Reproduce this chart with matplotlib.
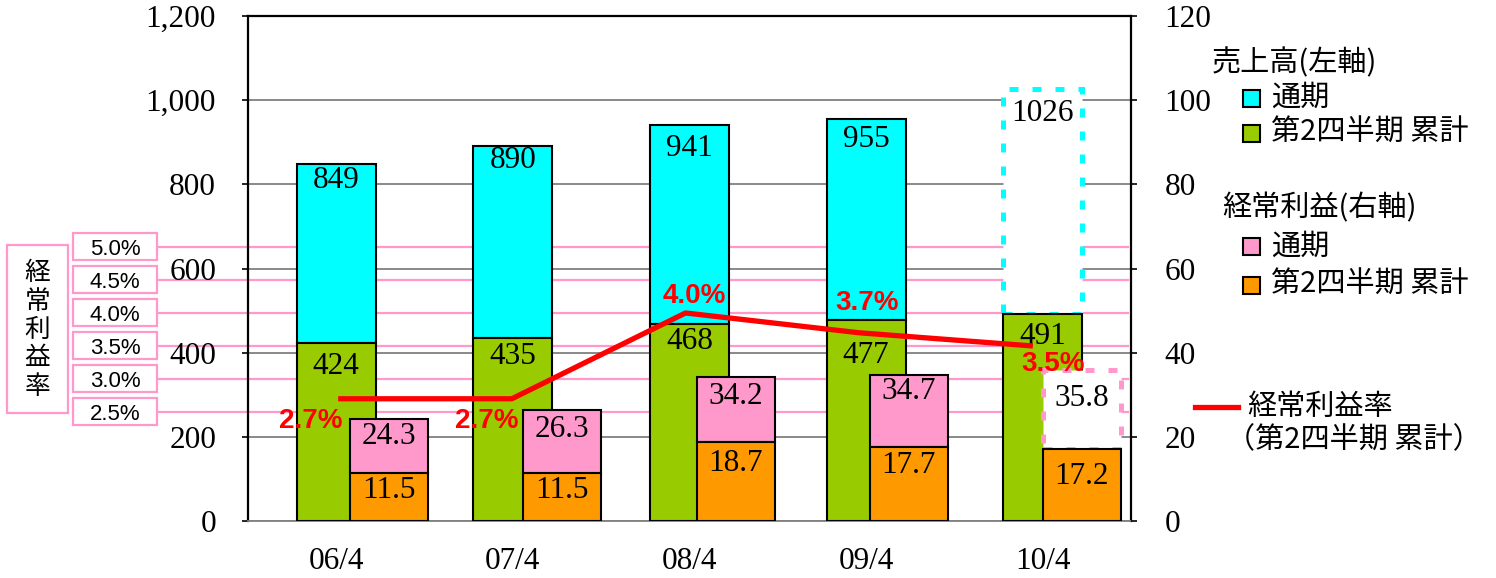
import matplotlib
matplotlib.use('Agg')
import matplotlib.pyplot as plt
from matplotlib.patches import Rectangle
from matplotlib.lines import Line2D
from matplotlib.ticker import FuncFormatter
import matplotlib.transforms as mtrans

# ---------------- data ----------------
categories = ['06/4', '07/4', '08/4', '09/4', '10/4']
sales_full = [849, 890, 941, 955, 1026]
sales_q2 = [424, 435, 468, 477, 491]
profit_full = [24.3, 26.3, 34.2, 34.7, 35.8]
profit_q2 = [11.5, 11.5, 18.7, 17.7, 17.2]
ratio_q2 = [2.7, 2.7, 4.0, 3.7, 3.5]
is_forecast = [False, False, False, False, True]
ratio_levels = [5.0, 4.5, 4.0, 3.5, 3.0, 2.5]
left_ticks = [0, 200, 400, 600, 800, 1000, 1200]
right_ticks = [0, 20, 40, 60, 80, 100, 120]

legend_sales_title = '売上高(左軸)'
legend_profit_title = '経常利益(右軸)'
legend_full = '通期'
legend_q2 = '第2四半期 累計'
legend_ratio = '経常利益率'
legend_ratio_sub = '（第2四半期 累計）'
ratio_axis_title = '経常利益率'

# ---------------- style ----------------
C_CYAN = '#00FFFF'
C_GREEN = '#99CC00'
C_PINK = '#FF99CC'
C_ORANGE = '#FF9900'
C_RED = '#FF0000'
SERIF = ['Liberation Serif', 'DejaVu Serif']
JP = ['Noto Sans CJK JP', 'DejaVu Sans']
SANS = ['Liberation Sans', 'DejaVu Sans']
NUM_FS = 22.5

W, H = 1496, 578
fig = plt.figure(figsize=(W / 100, H / 100), dpi=100)
fig.patch.set_facecolor('white')


def fr(x0, y0, x1, y1):
    return [x0 / W, 1 - y1 / H, (x1 - x0) / W, (y1 - y0) / H]


rect = fr(248, 16, 1131, 521)
ratio_ylim = (0.848, 8.5)

ax_r = fig.add_axes(rect, zorder=0)   # ratio guide lines
ax = fig.add_axes(rect, zorder=1)     # sales (left axis)
ax2 = fig.add_axes(rect, zorder=2)    # profit (right axis)
ax_l = fig.add_axes(rect, zorder=3)   # ratio line

# ---------- ratio guide lines and boxes ----------
ax_r.set_ylim(*ratio_ylim)
ax_r.set_xlim(0, 1)
ax_r.axis('off')
blend = mtrans.blended_transform_factory(fig.transFigure, ax_r.transData)
box_h = 27 * (ratio_ylim[1] - ratio_ylim[0]) / (521 - 16)
pix = mtrans.ScaledTranslation(0, -3 / 100, fig.dpi_scale_trans)
for lv in ratio_levels:
    fig.add_artist(Line2D([157 / W, 1128 / W], [lv, lv], transform=blend,
                          color=C_PINK, lw=1.6, zorder=0))
    fig.add_artist(Rectangle((73 / W, lv - box_h / 2), 84 / W, box_h,
                             transform=blend, facecolor='white',
                             edgecolor=C_PINK, lw=1.6, zorder=1))
    fig.text(115 / W, lv, f'{lv:.1f}%', transform=blend + pix, ha='center',
             va='center', fontsize=16, family=SANS, zorder=2)

fig.add_artist(Rectangle((7 / W, 1 - 413 / H), 61 / W, 168 / H,
                         transform=fig.transFigure, facecolor='white',
                         edgecolor=C_PINK, lw=1.6))
fig.text(37.5 / W, 1 - 330 / H, '\n'.join(ratio_axis_title), ha='center',
         va='center', fontsize=18.5, family=JP, linespacing=1.12)

# ---------- sales (left) ----------
ax.patch.set_visible(False)
ax.set_xlim(-0.5, 4.5)
ax.set_ylim(0, 1200)
ax.set_yticks(left_ticks)
ax.yaxis.set_major_formatter(FuncFormatter(lambda v, p: f'{v:,.0f}'))
ax.set_xticks(range(len(categories)))
ax.set_xticklabels(categories)
ax.tick_params(axis='y', direction='out', length=4, width=1.2, pad=19,
               labelsize=NUM_FS)
ax.tick_params(axis='x', length=0, pad=19, labelsize=NUM_FS)
for t in ax.get_xticklabels() + ax.get_yticklabels():
    t.set_family(SERIF)
ax.yaxis.grid(True, color='#808080', lw=1.3)
ax.set_axisbelow(True)
for s in ['left', 'top', 'right']:
    ax.spines[s].set_color('black')
    ax.spines[s].set_linewidth(1.6)
ax.spines['bottom'].set_color('#808080')
ax.spines['bottom'].set_linewidth(1.3)

sales_full_off = [-17, -14, -24, -20, -24]
sales_q2_off = [-24, -19, -17, -35, -22]
bw = 0.448
for i in range(len(categories)):
    if is_forecast[i]:
        ax.bar(i, sales_full[i] - sales_q2[i], bottom=sales_q2[i], width=bw,
               facecolor='white', edgecolor=C_CYAN, lw=3.6,
               linestyle=(0, (1.8, 2.8)), zorder=3)
    else:
        ax.bar(i, sales_full[i] - sales_q2[i], bottom=sales_q2[i], width=bw,
               facecolor=C_CYAN, edgecolor='black', lw=1.5, zorder=3)
    ax.bar(i, sales_q2[i], width=bw, facecolor=C_GREEN, edgecolor='black',
           lw=1.5, zorder=3)
    ax.annotate(f'{sales_full[i]}', (i, sales_full[i]),
                xytext=(0, sales_full_off[i]), textcoords='offset pixels',
                ha='center', va='center', fontsize=NUM_FS, family=SERIF,
                zorder=5)
    ax.annotate(f'{sales_q2[i]}', (i, sales_q2[i]),
                xytext=(0, sales_q2_off[i]), textcoords='offset pixels',
                ha='center', va='center', fontsize=NUM_FS, family=SERIF,
                zorder=5)

# ---------- profit (right) ----------
ax2.patch.set_visible(False)
ax2.set_xlim(-0.815, 4.283)
ax2.set_ylim(0, 120)
ax2.set_xticks([])
ax2.yaxis.tick_right()
ax2.set_yticks(right_ticks)
ax2.tick_params(axis='y', direction='out', length=4, width=1.2, pad=20,
                labelsize=NUM_FS)
for t in ax2.get_yticklabels():
    t.set_family(SERIF)
for s in ax2.spines.values():
    s.set_visible(False)

pw = 0.45
profit_full_off = [-18, -19, -19, -17, -28]
profit_q2_off = [-18, -18, -21, -19, -28]
for i in range(len(categories)):
    if is_forecast[i]:
        ax2.bar(i, profit_full[i] - profit_q2[i], bottom=profit_q2[i],
                width=pw, facecolor='white', edgecolor=C_PINK, lw=3.6,
                linestyle=(0, (1.8, 2.8)), zorder=3)
    else:
        ax2.bar(i, profit_full[i] - profit_q2[i], bottom=profit_q2[i],
                width=pw, facecolor=C_PINK, edgecolor='black', lw=1.5,
                zorder=3)
    ax2.bar(i, profit_q2[i], width=pw, facecolor=C_ORANGE, edgecolor='black',
            lw=1.5, zorder=3)
    ax2.annotate(f'{profit_full[i]:.1f}', (i, profit_full[i]),
                 xytext=(0, profit_full_off[i]), textcoords='offset pixels',
                 ha='center', va='center', fontsize=NUM_FS, family=SERIF,
                 zorder=5)
    ax2.annotate(f'{profit_q2[i]:.1f}', (i, profit_q2[i]),
                 xytext=(0, profit_q2_off[i]), textcoords='offset pixels',
                 ha='center', va='center', fontsize=NUM_FS, family=SERIF,
                 zorder=5)

# ---------- ratio line ----------
ax_l.patch.set_visible(False)
ax_l.set_xlim(-0.519, 4.565)
ax_l.set_ylim(*ratio_ylim)
ax_l.axis('off')
ax_l.plot(range(len(categories)), ratio_q2, color=C_RED, lw=3.8,
          solid_capstyle='butt', solid_joinstyle='round')
ratio_lbl_off = [(-27, -22), (-25, -22), (9, 17), (8, 30), (20, -18)]
for i, r in enumerate(ratio_q2):
    ax_l.annotate(f'{r:.1f}%', (i, r), xytext=ratio_lbl_off[i],
                  textcoords='offset pixels', ha='center', va='center',
                  color=C_RED, fontsize=20, fontweight='bold',
                  family=SANS)

# ---------- legend ----------
def fx(x):
    return x / W


def fy(y):
    return 1 - y / H


LEG_FS = 21
fig.text(fx(1212), fy(63), legend_sales_title, ha='left', va='center',
         fontsize=LEG_FS, family=JP)
fig.text(fx(1222), fy(208), legend_profit_title, ha='left', va='center',
         fontsize=LEG_FS, family=JP)
legend_rows = [(98, C_CYAN, legend_full), (133, C_GREEN, legend_q2),
               (247, C_PINK, legend_full), (285, C_ORANGE, legend_q2)]
for yc, col, lab in legend_rows:
    fig.add_artist(Rectangle((fx(1243), fy(yc + 8.5)), 17 / W, 17 / H,
                             transform=fig.transFigure, facecolor=col,
                             edgecolor='black', lw=1.5))
    fig.text(fx(1271), fy(yc), lab, ha='left', va='center', fontsize=LEG_FS,
             family=JP)

fig.add_artist(Line2D([fx(1195), fx(1238)], [fy(407), fy(407)],
                      transform=fig.transFigure, color=C_RED, lw=3.8))
fig.text(fx(1247), fy(407), legend_ratio, ha='left', va='center',
         fontsize=LEG_FS, family=JP)
fig.text(fx(1226), fy(440), legend_ratio_sub, ha='left', va='center',
         fontsize=LEG_FS, family=JP)

fig.savefig('out.png', dpi=100, facecolor='white')
